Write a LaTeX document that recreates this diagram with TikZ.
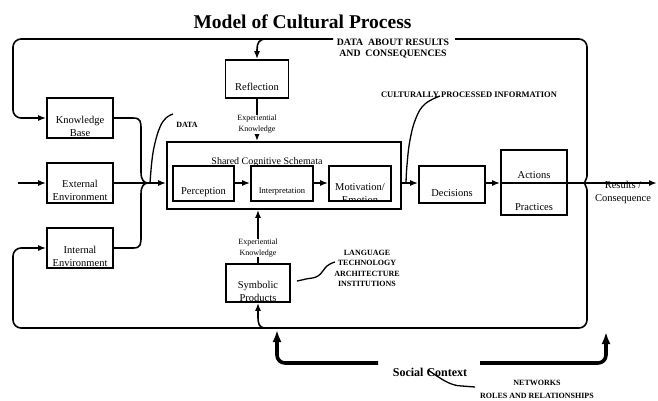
\documentclass[tikz,border=0pt]{standalone}
\usepackage{fontspec}
\setmainfont{Liberation Serif}
\usetikzlibrary{arrows.meta}
\begin{document}
\begin{tikzpicture}[x=1pt,y=-1pt,
 box/.style={draw, line width=1.6pt, inner sep=0pt},
 conn/.style={line width=1.6pt},
 arr/.style={conn, -{Latex[length=8pt,width=6pt]}},
 thickarr/.style={line width=3.6pt, -{Latex[length=12pt,width=9pt]}},
 lbl/.style={inner sep=0pt, align=center, font=\fontsize{10.5}{13}\selectfont},
 small/.style={inner sep=0pt, align=center, font=\fontsize{8}{11}\selectfont},
 caps/.style={inner sep=0pt, align=center, font=\bfseries\fontsize{8}{10.3}\selectfont},
 wig/.style={line width=1.3pt}
]
\useasboundingbox (0,0) rectangle (658,400);

% title
\node[inner sep=0pt, font=\bfseries\fontsize{19.5}{22}\selectfont] (title) at (302.5,21.5) {Model of Cultural Process};

% boxes
\node[box, minimum width=66pt, minimum height=40pt] (kb) at (80,118) {};
\node[box, minimum width=66pt, minimum height=40pt] (ee) at (80,183) {};
\node[box, minimum width=66pt, minimum height=40pt] (ie) at (80,248) {};
\node[box, minimum width=63pt, minimum height=38pt] (refl) at (257,79) {};
\node[box, minimum width=234pt, minimum height=67pt] (scs) at (284,175.5) {};
\node[box, minimum width=61pt, minimum height=35pt] (perc) at (203.5,183.5) {};
\node[box, minimum width=62pt, minimum height=35pt] (interp) at (282,183.5) {};
\node[box, minimum width=62pt, minimum height=35pt] (motiv) at (360,183.5) {};
\node[box, minimum width=66pt, minimum height=37pt] (dec) at (452,184.5) {};
\node[box, minimum width=66pt, minimum height=65pt] (act) at (534,182.5) {};
\node[box, minimum width=64pt, minimum height=38pt] (symb) at (258,283) {};

% box texts
\node[lbl] (kbt) at (80,126.5) {Knowledge\\Base};
\node[lbl] (eet) at (80,190.5) {External\\Environment};
\node[lbl] (iet) at (80,256.5) {Internal\\Environment};
\node[lbl] (reflt) at (257,87) {Reflection};
\node[lbl, font=\fontsize{10}{12}\selectfont] (scst) at (267,162) {Shared Cognitive Schemata};
\node[lbl] (perct) at (203.5,192) {Perception};
\node[lbl, font=\fontsize{8.5}{10}\selectfont] (interpt) at (282,192) {Interpretation};
\begin{scope}
\clip (329,166) rectangle (391,201);
\node[lbl] (motivt) at (360,193.5) {Motivation/\\Emotion};
\end{scope}
\node[lbl] (dect) at (452,193) {Decisions};
\node[lbl] (actt) at (534,175) {Actions};
\node[lbl] (pract) at (534,207) {Practices};
\node[lbl] (symbt) at (258,291) {Symbolic\\Products};
\node[lbl] (rest) at (623,192) {Results /\\Consequence};

% caps labels
\node[caps, font=\bfseries\fontsize{9.8}{11}\selectfont] (dar) at (393,48.5) {DATA\ \ ABOUT RESULTS\\AND\ \ CONSEQUENCES};
\node[caps] (data) at (187,125) {DATA};
\node[caps, font=\bfseries\fontsize{8.5}{10}\selectfont] (cpi) at (469,95) {CULTURALLY PROCESSED INFORMATION};
\node[caps] (lang) at (367,268.5) {LANGUAGE\\TECHNOLOGY\\ARCHITECTURE\\INSTITUTIONS};
\node[caps, font=\bfseries\fontsize{8}{13}\selectfont] (net) at (537,389.5) {NETWORKS\\ROLES AND RELATIONSHIPS};
\node[inner sep=0pt, font=\bfseries\fontsize{12}{14}\selectfont] (sc) at (430,372) {Social Context};

% coordinates
\coordinate (mg) at (148,183);
\coordinate (in) at (18,183);
\coordinate (res) at (657,183);
\coordinate (tl) at (13,39);
\coordinate (tr) at (587,39);
\coordinate (br) at (587,328);
\coordinate (bl) at (13,328);
\coordinate (gapL) at (333,39);
\coordinate (gapR) at (455,39);
\coordinate (rtop) at (266,39);
\coordinate (sb) at (264,328);
\coordinate (scL) at (378,363);
\coordinate (scR) at (480,363);
\coordinate (cpiS) at (406,183);

% big feedback loop
\draw[arr, rounded corners=8pt] (gapL) -- (tl) -- (13,118) -- (kb.west);
\draw[arr, rounded corners=8pt] (gapR) -- (tr) -- (587,168)
  .. controls (587,179) and (583,183) .. (578,183)
  .. controls (583,183) and (587,187) .. (587,198)
  -- (br) -- (bl) -- (13,248) -- (ie.west);
\draw[arr] (rtop) .. controls (259,39) and (257,43) .. (257,50) -- (refl.north);
\draw[arr] (sb) .. controls (259,327) and (258,324) .. (258,316) -- (symb.south);

% inputs and merge
\draw[arr] (in) -- (ee.west);
\draw[conn] (kb.east) -- (133,118) .. controls (141,118) and (141,122) .. (141,130)
  -- (141,172) .. controls (141,180) and (144,183) .. (mg);
\draw[conn] (ie.east) -- (133,248) .. controls (141,248) and (141,244) .. (141,236)
  -- (141,194) .. controls (141,186) and (144,183) .. (mg);
\draw[conn] (ee.east) -- (mg);
\draw[arr] (mg) -- (mg -| scs.west);

% inner flow
\draw[arr] (perc.east |- mg) -- (interp.west |- mg);
\draw[arr] (interp.east |- mg) -- (motiv.west |- mg);
\draw[arr] (mg -| scs.east) -- (mg -| dec.west);
\draw[arr] (mg -| dec.east) -- (mg -| act.west);
\draw[arr] (mg -| act.west) -- (res);

% experiential knowledge
\draw[arr] (refl.south) -- (refl.south |- scs.north);
\node[small, fill=white] (ek1) at (257,124.5) {Experiential\\Knowledge};
\draw[arr] (symb.north) -- (symb.north |- scs.south);
\node[small, fill=white] (ek2) at (258,248) {Experiential\\Knowledge};

% leaders
\draw[wig] plot[smooth, tension=0.7] coordinates {(150,183) (152,160) (155,143) (160,127) (166,118) (173,114)};
\draw[wig] plot[smooth, tension=0.7] coordinates {(cpiS) (407,165) (410,140) (416,118) (425,104) (440,96)};
\draw[wig] plot[smooth, tension=0.7] coordinates {(297,281) (306,279) (318,276) (327,266) (335,262)};
\draw[wig] (428,370) .. controls (440,378) and (450,386) .. (462,386) -- (475,387);

% social context arrows
\draw[thickarr, rounded corners=8pt] (scL) -- (277,363) -- (277,330);
\draw[thickarr, rounded corners=8pt] (scR) -- (606,363) -- (606,332);
\end{tikzpicture}
\end{document}
